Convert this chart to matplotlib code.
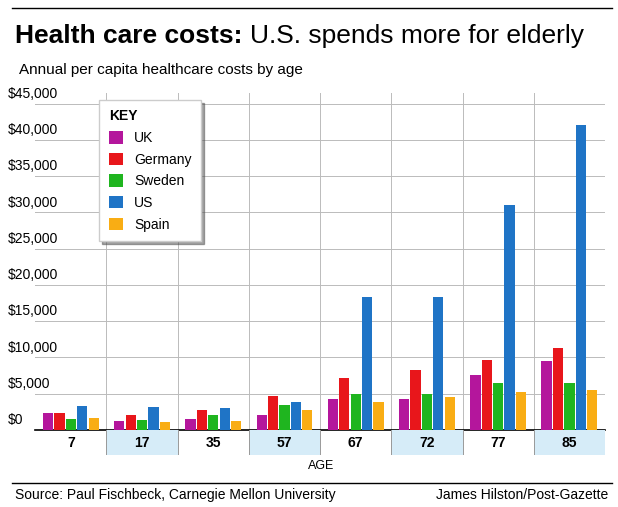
import matplotlib.pyplot as plt
import matplotlib.transforms as mtransforms
import numpy as np

# per capita healthcare costs by age
ages = ["7", "17", "35", "57", "67", "72", "77", "85"]
costs = {
    "UK":      [2300, 1300, 1500, 2000, 4300, 4300, 7600, 9500],
    "Germany": [2300, 2000, 2700, 4700, 7100, 8200, 9600, 11300],
    "Sweden":  [1500, 1400, 2100, 3500, 5000, 4900, 6500, 6500],
    "US":      [3300, 3200, 3000, 3900, 18300, 18300, 31000, 42000],
    "Spain":   [1600, 1100, 1300, 2700, 3800, 4600, 5200, 5500],
}
colors = ["#b4169c", "#e8161b", "#1fb51f", "#1f74c6", "#f9ad14"]

plt.rcParams['font.family'] = ['Liberation Sans', 'DejaVu Sans']

fig = plt.figure(figsize=(6.18, 5.07), dpi=100)
ax = fig.add_axes([0.057, 0.152, 0.922, 0.665])

x = np.arange(len(ages))
width = 0.16
for i, (country, vals) in enumerate(costs.items()):
    ax.bar(x + (i - 2) * width, vals, width * 0.9, color=colors[i], label=country, zorder=3)

ax.set_xlim(-0.5, len(ages) - 0.5)
ax.set_ylim(0, 46500)
ax.set_yticks([])
ax.set_xticks([])
# y labels sit on top of their gridlines, starting at the left edge of the figure
trans = mtransforms.blended_transform_factory(fig.transFigure, ax.transData)
for v in range(0, 45001, 5000):
    ax.axhline(v, color="#bbbbbb", lw=0.7, zorder=0)
    ax.add_artist(plt.Line2D([0.0, 0.06], [v, v], transform=trans, color="#bbbbbb", lw=0.7))
    ax.text(0.012, v + 400, "$0" if v == 0 else "${:,}".format(v), transform=trans,
            fontsize=10, ha="left", va="bottom")
for b in np.arange(0.5, len(ages) - 0.5):
    ax.axvline(b, color="#bbbbbb", lw=0.7, zorder=0)
for s in ["top", "right", "left"]:
    ax.spines[s].set_visible(False)
ax.spines["bottom"].set_linewidth(1.2)

# age row underneath
lab = fig.add_axes([0.057, 0.102, 0.922, 0.05])
lab.set_xlim(-0.5, len(ages) - 0.5)
lab.set_ylim(0, 1)
for i, a in enumerate(ages):
    if i % 2 == 1:
        lab.axvspan(i - 0.5, i + 0.5, color="#d6ecf8", lw=0)
    lab.text(i, 0.5, a, ha="center", va="center", fontsize=10, fontweight="bold")
for b in np.arange(0.5, len(ages) - 0.5):
    lab.axvline(b, color="#999999", lw=0.7)
lab.axis("off")
fig.text(0.52, 0.081, "AGE", ha="center", va="center", fontsize=9)

leg = ax.legend(title="KEY", loc="upper left", bbox_to_anchor=(0.1, 1.0), frameon=True,
                fancybox=False, shadow=True, fontsize=10, handlelength=1.0, handleheight=1.0,
                labelspacing=0.55, borderpad=0.7, alignment="left")
leg.get_title().set_fontweight("bold")
leg.get_frame().set_edgecolor("#cccccc")

# title, subtitle, credits
fig.add_artist(plt.Line2D([0.02, 0.99], [0.985, 0.985], color="black", lw=1))
fig.text(0.025, 0.915, "Health care costs:", fontsize=19, fontweight="bold", va="baseline")
fig.text(0.405, 0.915, "U.S. spends more for elderly", fontsize=19, va="baseline")
fig.text(0.03, 0.855, "Annual per capita healthcare costs by age", fontsize=11, va="baseline")
fig.add_artist(plt.Line2D([0.02, 0.99], [0.048, 0.048], color="black", lw=1))
fig.text(0.025, 0.015, "Source: Paul Fischbeck, Carnegie Mellon University", fontsize=10, va="baseline")
fig.text(0.985, 0.015, "James Hilston/Post-Gazette", fontsize=10, va="baseline", ha="right")

plt.savefig("out.png", dpi=100)
